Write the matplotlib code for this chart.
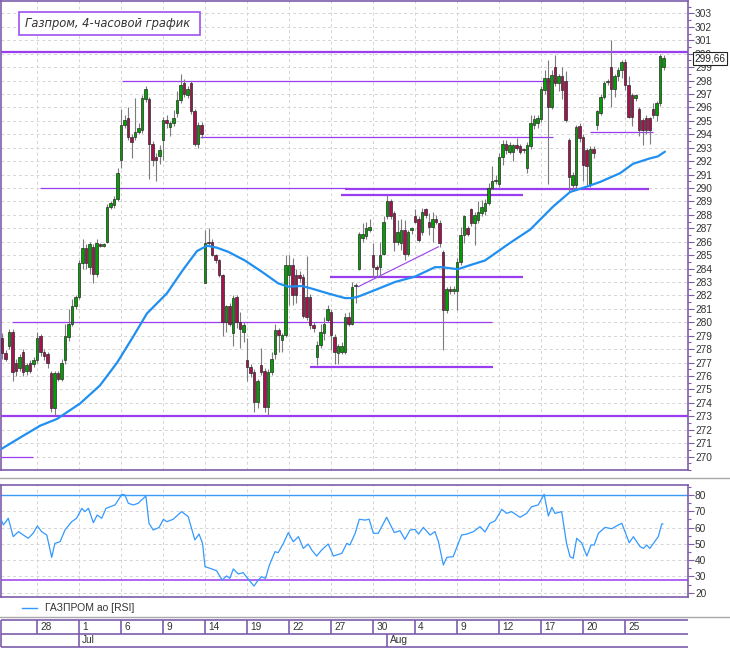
import matplotlib
matplotlib.use("Agg")
import matplotlib.pyplot as plt
from matplotlib.patches import Rectangle
from matplotlib.lines import Line2D
from matplotlib.ticker import MultipleLocator
import numpy as np

plt.rcParams['font.family'] = ['Liberation Sans', 'DejaVu Sans']

# 4-часовые свечи (индекс свечи = позиция по оси x)
opens = [
    278.8, 277.7, 278.2, 279.3, 277.0, 276.6, 277.8, 276.4, 277.0, 276.9,
    277.2, 279.0, 277.8, 277.6, 276.2, 273.6, 276.2, 275.8, 277.2, 278.9,
    279.9, 281.2, 281.9, 284.4, 285.5, 284.1, 285.6, 283.6, 285.8, 285.7,
    286.0, 288.6, 288.7, 289.2, 292.1, 294.7, 295.2, 293.8, 293.8, 294.2,
    294.3, 296.6, 296.6, 293.3, 292.3, 292.4, 293.6, 295.05, 294.55, 294.8,
    295.55, 296.55, 297.8, 296.9, 297.8, 295.7, 293.3, 294.7, 282.9, 286.0,
    286.0, 285.0, 284.6, 283.5, 280.0, 281.2, 279.2, 281.9, 280.0, 279.3,
    277.2, 276.7, 276.3, 274.1, 276.8, 276.4, 273.7, 276.3, 277.6, 279.4,
    278.7, 279.05, 283.5, 284.3, 283.5, 283.5, 283.4, 281.9, 281.9, 279.8,
    277.4, 278.3, 279.2, 280.2, 280.8, 278.9, 277.7, 277.8, 277.8, 280.4,
    279.9, 282.7, 284.0, 286.3, 286.4, 286.9, 285.0, 284.1, 284.1, 285.1,
    287.9, 289.0, 288.1, 286.0, 285.9, 286.9, 285.1, 286.9, 287.9, 287.7,
    286.7, 288.4, 287.5, 287.1, 287.7, 287.4, 285.25, 280.9, 282.5, 282.3,
    282.3, 284.5, 286.5, 287.0, 288.4, 287.4, 287.6, 288.1, 288.3, 288.9,
    290.0, 290.5, 290.3, 292.3, 293.3, 292.7, 292.7, 293.2, 293.1, 292.9,
    291.5, 293.1, 294.7, 294.8, 295.1, 297.3, 298.2, 296.05, 299.0, 297.8,
    298.3, 298.0, 293.6, 290.2, 290.2, 294.6, 293.8, 292.8, 290.3, 292.9,
    294.7, 295.55, 296.8, 297.9, 299.0, 297.4, 298.3, 298.8, 299.4, 297.7,
    296.9, 296.7, 295.9, 295.05, 295.2, 295.2, 295.9, 295.4, 296.3, 299.0,
]
highs = [
    279.2, 277.9, 279.5, 279.5, 277.3, 277.6, 278.0, 277.0, 277.2, 277.4,
    279.3, 279.1, 278.0, 277.8, 276.4, 276.4, 276.4, 277.3, 279.9, 281.0,
    281.7, 282.0, 284.6, 286.2, 285.8, 286.0, 285.8, 286.2, 285.9, 285.9,
    288.8, 289.0, 289.4, 291.5, 295.9, 295.4, 296.0, 294.0, 296.7, 294.8,
    296.9, 297.6, 296.8, 293.5, 292.6, 293.2, 295.3, 295.4, 295.0, 295.8,
    297.2, 298.5, 298.1, 297.6, 298.0, 295.9, 294.9, 294.9, 286.9, 287.0,
    286.2, 285.1, 284.7, 283.6, 281.3, 281.4, 282.0, 282.0, 280.8, 280.0,
    278.8, 276.9, 276.5, 275.8, 278.1, 276.6, 276.5, 277.8, 279.9, 279.6,
    279.2, 285.0, 285.0, 284.8, 284.0, 283.8, 283.6, 284.9, 282.1, 280.0,
    278.6, 279.9, 280.4, 281.3, 281.0, 279.1, 278.4, 278.5, 280.66, 280.8,
    283.0, 282.9, 286.7, 287.4, 287.5, 287.7, 285.9, 284.3, 286.0, 287.9,
    289.5, 289.2, 288.3, 287.6, 287.7, 287.6, 286.9, 287.1, 288.4, 287.9,
    288.5, 288.5, 288.1, 288.2, 288.0, 287.6, 285.4, 282.6, 282.7, 282.7,
    284.8, 287.1, 288.0, 287.2, 288.5, 288.2, 289.0, 289.1, 289.2, 290.4,
    291.6, 291.0, 292.6, 293.6, 293.6, 293.4, 293.3, 293.7, 293.3, 293.0,
    293.4, 295.4, 295.4, 295.4, 297.6, 298.8, 299.5, 298.8, 299.9, 298.5,
    299.0, 298.7, 293.7, 291.2, 294.7, 294.8, 294.0, 293.0, 293.1, 293.1,
    295.8, 297.0, 298.0, 298.1, 301.0, 298.5, 299.0, 299.5, 299.6, 298.3,
    297.1, 297.0, 296.0, 295.2, 295.4, 295.3, 296.3, 296.5, 300.0, 299.9,
]
lows = [
    277.3, 277.1, 278.0, 275.6, 276.0, 276.4, 276.0, 276.1, 276.2, 276.7,
    277.0, 277.5, 277.2, 276.6, 273.3, 273.1, 275.6, 275.6, 276.9, 278.6,
    279.7, 281.0, 281.7, 284.0, 284.0, 283.6, 282.9, 283.4, 285.6, 285.6,
    285.9, 288.4, 288.5, 289.0, 291.5, 294.5, 293.55, 292.2, 293.6, 294.0,
    294.1, 296.4, 290.7, 291.6, 290.5, 291.8, 292.1, 294.5, 293.9, 294.6,
    295.3, 296.3, 296.8, 296.7, 295.5, 293.1, 293.0, 293.7, 282.9, 285.7,
    284.9, 284.4, 283.4, 279.0, 279.3, 279.7, 278.2, 279.6, 278.1, 278.5,
    275.6, 275.9, 273.3, 273.6, 276.1, 273.3, 273.1, 276.1, 277.3, 277.8,
    277.8, 278.9, 281.3, 281.3, 281.4, 283.0, 280.3, 280.2, 279.5, 279.3,
    276.8, 278.1, 278.7, 280.0, 277.9, 276.9, 276.9, 277.6, 277.6, 279.7,
    279.8, 281.4, 283.9, 286.0, 286.2, 286.7, 283.4, 283.4, 283.4, 285.0,
    287.7, 287.7, 285.3, 285.75, 285.4, 284.6, 284.9, 286.6, 287.4, 286.0,
    286.5, 287.8, 286.5, 286.0, 287.3, 285.6, 277.9, 280.7, 282.1, 282.1,
    280.9, 284.3, 285.9, 286.4, 287.2, 285.75, 287.4, 287.9, 288.0, 288.7,
    289.9, 290.3, 290.1, 291.7, 292.5, 292.5, 292.0, 292.8, 292.5, 292.6,
    291.1, 292.9, 294.4, 294.5, 294.9, 297.0, 290.3, 295.9, 297.6, 297.2,
    296.6, 294.9, 289.8, 289.8, 290.0, 293.4, 290.5, 290.2, 290.1, 292.2,
    294.3, 295.4, 296.6, 297.7, 296.05, 296.8, 298.0, 298.2, 297.3, 295.2,
    294.6, 296.5, 293.9, 293.2, 294.0, 293.3, 295.2, 295.0, 296.1, 298.8,
]
closes = [
    277.7, 277.3, 279.3, 276.3, 276.4, 277.4, 276.3, 276.8, 276.4, 277.2,
    278.8, 277.8, 277.5, 277.0, 273.6, 276.2, 275.8, 277.0, 279.0, 279.9,
    281.2, 281.9, 284.4, 285.5, 284.4, 285.8, 283.6, 285.9, 285.7, 285.8,
    288.6, 288.9, 289.2, 291.1, 294.7, 295.05, 293.8, 293.4, 294.2, 294.5,
    296.7, 297.4, 293.3, 292.1, 292.1, 292.8, 295.05, 294.8, 294.8, 295.2,
    296.55, 297.65, 297.0, 297.4, 295.7, 293.3, 294.7, 294.0, 285.9, 285.9,
    285.0, 284.6, 283.5, 280.0, 281.2, 279.9, 281.8, 280.0, 279.5, 279.8,
    276.7, 276.2, 274.1, 275.6, 276.3, 273.7, 276.3, 277.3, 279.4, 279.05,
    279.05, 284.3, 284.3, 282.0, 282.0, 283.3, 280.5, 280.4, 279.8, 279.6,
    278.3, 279.3, 279.9, 281.0, 279.05, 277.8, 278.2, 278.2, 280.4, 279.9,
    282.65, 282.8, 286.6, 286.6, 287.0, 287.1, 284.1, 284.0, 285.0, 287.5,
    289.0, 287.9, 286.0, 286.7, 286.9, 285.1, 286.7, 287.0, 287.5, 286.1,
    288.2, 288.0, 287.1, 287.7, 287.5, 285.9, 280.9, 282.5, 282.3, 282.5,
    284.5, 286.5, 287.9, 286.6, 287.4, 288.0, 288.2, 288.6, 288.9, 290.0,
    290.5, 290.6, 292.3, 293.3, 292.8, 293.2, 293.2, 293.0, 292.7, 292.8,
    293.2, 294.8, 295.1, 295.2, 297.4, 298.2, 296.05, 298.4, 297.8, 298.3,
    297.3, 295.06, 290.8, 291.0, 294.56, 293.7, 291.7, 291.6, 292.9, 292.6,
    295.7, 296.8, 297.8, 297.9, 297.4, 298.3, 298.8, 299.4, 297.7, 295.3,
    295.3, 296.9, 294.3, 294.3, 294.3, 294.3, 295.4, 296.3, 299.8, 299.66,
]

# скользящая средняя
ma_pos = [-0.6, 5.1, 10.9, 15.7, 22.3, 28.0, 32.9, 37.4, 41.4, 47.1, 51.7, 55.7,
          58.6, 61.4, 64.6, 69.4, 74.3, 78.9, 81.7, 85.7, 88.6, 93.1, 98.0, 100.0,
          101.7, 106.6, 112.3, 118.0, 123.7, 125.7, 130.3, 133.1, 138.0, 145.1,
          150.9, 157.4, 162.3, 167.1, 170.9, 176.6, 180.3, 185.1, 187.4, 189.4]
ma_vals = [270.5, 271.4, 272.3, 272.8, 273.95, 275.3, 277.0, 278.9, 280.65, 282.15, 283.9, 285.3,
           285.7, 285.55, 285.25, 284.6, 283.75, 282.9, 282.65, 282.7, 282.5, 282.15, 281.8, 281.8,
           281.9, 282.4, 283.0, 283.4, 284.1, 284.1, 283.95, 284.2, 284.6, 285.9,
           286.9, 288.6, 289.7, 290.1, 290.45, 291.1, 291.8, 292.2, 292.35, 292.7]

# RSI
rsi_pos = [-0.6, 0.4, 1.8, 3.2, 4.7, 6.1, 7.5, 8.9, 10.1, 11.3, 12.8, 14.2, 15.1, 16.6,
           18.0, 19.9, 21.3, 22.8, 23.7, 24.7, 26.1, 27.2, 28.5, 29.7, 30.9, 32.3, 33.2,
           34.2, 35.1, 36.1, 37.5, 38.9, 40.4, 41.1, 42.0, 43.2, 44.9, 46.1, 47.1, 48.9,
           51.3, 53.2, 55.1, 56.3, 57.3, 58.0, 59.4, 61.3, 62.9, 64.2, 65.1, 66.1, 67.5,
           68.9, 70.4, 72.0, 73.2, 74.2, 75.3, 76.4, 78.0, 78.9, 80.4, 81.8, 83.2, 84.7,
           86.1, 87.5, 88.5, 89.9, 91.3, 93.2, 94.7, 97.1, 98.5, 99.4, 100.9, 102.1, 103.7,
           104.9, 106.1, 107.5, 109.9, 112.1, 113.7, 115.1, 116.6, 118.0, 119.0, 120.4,
           122.3, 123.7, 124.7, 126.1, 127.1, 128.9, 131.3, 132.8, 134.7, 136.6, 138.0,
           139.4, 140.9, 142.8, 144.2, 145.6, 148.0, 149.9, 151.3, 153.2, 154.9, 156.1,
           157.1, 158.0, 159.9, 161.3, 162.3, 163.2, 164.2, 165.6, 167.1, 168.3, 169.2,
           170.4, 172.3, 174.2, 176.1, 177.1, 179.2, 180.4, 182.3, 183.3, 184.2, 185.1,
           187.5, 188.5, 188.8]
rsi_vals = [66.7, 61.6, 65.7, 54.4, 57.5, 55.4, 53.4, 56.5, 61.0, 57.5, 55.4, 41.7, 50.3, 51.3,
            58.5, 63.6, 65.7, 71.8, 69.8, 71.8, 63.0, 67.7, 65.7, 71.8, 72.8, 73.9, 76.9,
            80.4, 80.0, 74.9, 73.9, 74.9, 78.0, 79.4, 62.6, 58.5, 60.1, 65.1, 63.6, 65.1,
            69.8, 66.7, 52.4, 56.0, 50.3, 36.0, 35.0, 33.5, 27.8, 30.3, 28.8, 34.6, 31.5,
            32.3, 28.2, 24.1, 27.8, 29.8, 28.8, 37.0, 45.2, 44.6, 50.3, 56.9, 51.3, 54.4,
            47.2, 49.9, 46.2, 42.5, 46.2, 49.9, 42.5, 44.2, 50.3, 49.3, 56.5, 65.1, 64.6,
            65.1, 56.5, 56.5, 66.3, 56.9, 58.1, 52.8, 58.5, 58.9, 56.0, 60.1,
            55.4, 57.5, 51.3, 37.0, 41.7, 42.1, 55.4, 56.0, 57.5, 60.6, 57.3,
            62.6, 64.2, 71.2, 68.7, 69.8, 66.3, 68.7, 72.8, 73.9, 80.4, 67.1,
            72.4, 68.7, 69.8, 50.3, 42.1, 41.1, 53.4, 50.7, 42.5, 49.3, 49.3,
            56.5, 60.1, 59.3, 61.6, 62.6, 50.7, 54.4, 48.3, 47.2, 49.3, 47.2,
            54.4, 62.2, 62.2]

# уровни на графике: цена, начало, конец (в индексах свечей)
level_price = [300.12, 298.0, 293.8, 290.0, 289.95, 289.45, 283.35, 280.0, 276.7, 273.0, 270.0, 294.2]
level_from = [-0.5, 34.3, 56.6, 10.9, 98.0, 96.9, 93.7, 2.9, 88.0, -0.5, -0.5, 168.0]
level_to = [196.0, 158.9, 157.4, 98.6, 184.9, 148.9, 148.9, 140.0, 140.3, 196.0, 8.9, 186.0]
level_thick = [True, False, False, False, True, True, True, False, True, True, False, False]
trend_x = [101.8, 124.7]
trend_y = [282.65, 285.62]

rsi_upper = 80
rsi_lower = 28

# подписи дат
day_labels = ['28', '1', '6', '9', '14', '19', '22', '27', '30', '4', '9', '12', '17', '20', '25']
day_start = 10          # свеча, с которой начинается 28 июня
candles_per_label = 12  # 3 торговых дня по 4 свечи
month_labels = ['Jul', 'Aug']
month_start = [22, 110]

W, H = 730, 648
PURPLE = '#9a3cef'
FRAME = '#7d5cab'
GRID = '#d4d4d4'
XMIN, XMAX = -0.43, 196.0


def fig_box(x0, y0, x1, y1):
    return [x0 / W, 1 - y1 / H, (x1 - x0) / W, (y1 - y0) / H]


fig = plt.figure(figsize=(W / 100, H / 100), dpi=100)
ax = fig.add_axes(fig_box(0.5, 1, 688, 470))
ax_rsi = fig.add_axes(fig_box(0.5, 485, 688, 597))
ax_d = fig.add_axes(fig_box(0.5, 620, 688, 647))

idx = np.arange(len(closes))
o = np.array(opens)
c = np.array(closes)
day_pos = [day_start + k * candles_per_label for k in range(len(day_labels))]

for a in (ax, ax_rsi):
    a.set_xlim(XMIN, XMAX)
    for s in a.spines.values():
        s.set_color(FRAME)
        s.set_linewidth(1.2)
    a.yaxis.tick_right()
    a.tick_params(axis='x', which='both', bottom=False, labelbottom=False)
    a.tick_params(axis='y', which='major', length=4, width=0.8, color=FRAME,
                  labelsize=7.3, labelcolor='#333333', pad=1)
    a.tick_params(axis='y', which='minor', length=2, width=0.8, color=FRAME)
    for p in day_pos:
        a.axvline(p, color=GRID, lw=0.7, ls=(0, (3, 3)), zorder=0)

# основная панель
ax.set_ylim(269.0, 303.92)
ax.set_yticks(range(270, 304))
ax.yaxis.set_minor_locator(MultipleLocator(0.5))
for yv in range(270, 304):
    ax.axhline(yv, color=GRID, lw=0.7, ls=(0, (3, 3)), zorder=0)

for lp, l0, l1, th in zip(level_price, level_from, level_to, level_thick):
    ax.hlines(lp, l0, l1, color=PURPLE, lw=1.6 if th else 0.9, zorder=2)
ax.plot(trend_x, trend_y, color=PURPLE, lw=0.8, zorder=2)

ax.vlines(idx, lows, highs, color='#7c7c7c', lw=0.8, zorder=3)
body_h = np.maximum(np.abs(c - o), 0.08)
body_b = np.minimum(o, c)
body_col = ['#00a000' if cc >= oo else '#a8104e' for oo, cc in zip(o, c)]
ax.bar(idx, body_h, bottom=body_b, width=0.72, color=body_col,
       edgecolor='#2a2a2a', linewidth=0.5, zorder=3.5)

ax.plot(ma_pos, ma_vals, color='#1f8ff0', lw=1.6, zorder=4,
        solid_capstyle='round', solid_joinstyle='round')

# RSI
ax_rsi.set_ylim(17.36, 86.14)
ax_rsi.set_yticks(range(20, 90, 10))
ax_rsi.yaxis.set_minor_locator(MultipleLocator(5))
for yv in range(20, 90, 10):
    ax_rsi.axhline(yv, color=GRID, lw=0.7, ls=(0, (3, 3)), zorder=0)
ax_rsi.axhline(rsi_upper, color='#3a9af5', lw=1.0, zorder=2)
ax_rsi.axhline(rsi_lower, color=PURPLE, lw=1.1, zorder=2)
ax_rsi.plot(rsi_pos, rsi_vals, color='#3399ff', lw=0.9, zorder=3)

# шкала дат
ax_d.set_xlim(XMIN, XMAX)
ax_d.set_ylim(0, 2)
ax_d.axis('off')
for yv in (0, 1, 2):
    ax_d.hlines(yv, XMIN, XMAX, color=FRAME, lw=1.2, clip_on=False)
ax_d.vlines(XMIN + 0.1, 0, 2, color=FRAME, lw=1.2, clip_on=False)
for p, lab in zip(day_pos, day_labels):
    ax_d.vlines(p, 1, 2, color=FRAME, lw=1.2, clip_on=False)
    ax_d.text(p + 0.9, 1.5, lab, fontsize=7.3, color='#333333', va='center', ha='left')
for p, lab in zip(month_start, month_labels):
    ax_d.vlines(p, 0, 1, color=FRAME, lw=1.2, clip_on=False)
    ax_d.text(p + 0.9, 0.5, lab, fontsize=7.3, color='#333333', va='center', ha='left')

# разделители панелей
for yp in (478, 617):
    fig.add_artist(Line2D([0, 1], [1 - yp / H] * 2, color='#a9a9a9', lw=1.0))

# легенда RSI
fig.add_artist(Line2D([22 / W, 37 / W], [1 - 608 / H] * 2, color='#3399ff', lw=1.0))
fig.text(45 / W, 1 - 608 / H, 'ГАЗПРОМ ао [RSI]', fontsize=7.5, color='#333333', va='center')

# заголовок в рамке
fig.add_artist(Rectangle((19 / W, 1 - 35 / H), 181 / W, 23 / H, transform=fig.transFigure,
                         facecolor='white', edgecolor='#a050f0', lw=1.2, zorder=5))
fig.text(25 / W, 1 - 23.5 / H, 'Газпром, 4-часовой график', family=['DejaVu Sans'],
         style='italic', fontsize=8.3, color='#333333', va='center', zorder=6)

# метка последней цены
fig.text(710 / W, 1 - 58.7 / H, '299,66', fontsize=7.3, color='#222222', ha='center', va='center',
         bbox=dict(boxstyle='square,pad=0.15', fc='white', ec='#222222', lw=0.8))

fig.savefig('out.png', dpi=100)
plt.close(fig)
